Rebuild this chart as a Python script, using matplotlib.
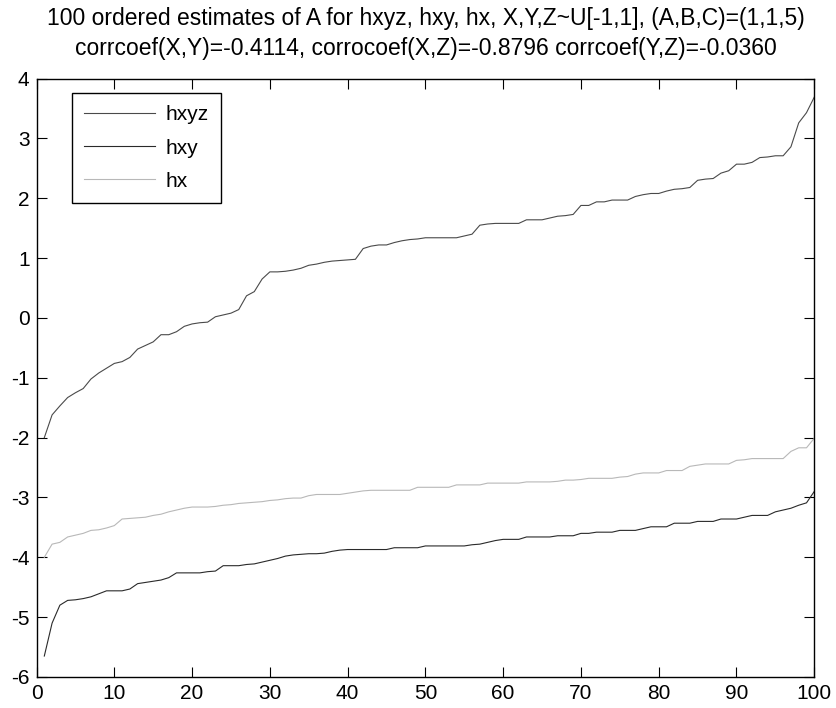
import numpy as np
import matplotlib.pyplot as plt

plt.rcParams['font.family'] = ['Liberation Sans', 'DejaVu Sans']
plt.rcParams['axes.unicode_minus'] = False

# valores (100 estimaciones ordenadas)
hxyz = [-2.00, -1.62, -1.47, -1.33, -1.25, -1.18, -1.02, -0.92, -0.84, -0.76,
        -0.73, -0.66, -0.52, -0.46, -0.40, -0.28, -0.28, -0.23, -0.14, -0.10,
        -0.08, -0.07, 0.02, 0.05, 0.08, 0.14, 0.37, 0.44, 0.65, 0.77,
        0.77, 0.78, 0.80, 0.83, 0.88, 0.90, 0.93, 0.95, 0.96, 0.97,
        0.98, 1.16, 1.20, 1.22, 1.22, 1.26, 1.29, 1.31, 1.32, 1.34,
        1.34, 1.34, 1.34, 1.34, 1.37, 1.40, 1.55, 1.57, 1.58, 1.58,
        1.58, 1.58, 1.64, 1.64, 1.64, 1.67, 1.70, 1.71, 1.73, 1.88,
        1.88, 1.94, 1.94, 1.97, 1.97, 1.97, 2.03, 2.06, 2.08, 2.08,
        2.12, 2.15, 2.16, 2.18, 2.30, 2.32, 2.33, 2.42, 2.46, 2.57,
        2.57, 2.60, 2.68, 2.69, 2.71, 2.71, 2.86, 3.26, 3.43, 3.69]

hxy = [-5.65, -5.10, -4.80, -4.72, -4.71, -4.69, -4.66, -4.61, -4.56, -4.56,
       -4.56, -4.53, -4.44, -4.42, -4.40, -4.38, -4.34, -4.26, -4.26, -4.26,
       -4.26, -4.24, -4.23, -4.14, -4.14, -4.14, -4.12, -4.11, -4.08, -4.05,
       -4.02, -3.98, -3.96, -3.95, -3.94, -3.94, -3.93, -3.90, -3.88, -3.87,
       -3.87, -3.87, -3.87, -3.87, -3.87, -3.84, -3.84, -3.84, -3.84, -3.81,
       -3.81, -3.81, -3.81, -3.81, -3.81, -3.79, -3.78, -3.75, -3.72, -3.70,
       -3.70, -3.70, -3.66, -3.66, -3.66, -3.66, -3.64, -3.64, -3.64, -3.60,
       -3.60, -3.58, -3.58, -3.58, -3.55, -3.55, -3.55, -3.52, -3.49, -3.49,
       -3.49, -3.43, -3.43, -3.43, -3.40, -3.40, -3.40, -3.36, -3.36, -3.36,
       -3.33, -3.30, -3.30, -3.30, -3.24, -3.21, -3.18, -3.13, -3.09, -2.90]

hx = [-4.00, -3.78, -3.75, -3.66, -3.63, -3.60, -3.55, -3.54, -3.51, -3.47,
      -3.36, -3.35, -3.34, -3.33, -3.30, -3.28, -3.24, -3.21, -3.18, -3.16,
      -3.16, -3.16, -3.15, -3.13, -3.12, -3.10, -3.09, -3.08, -3.07, -3.05,
      -3.04, -3.02, -3.01, -3.01, -2.97, -2.95, -2.95, -2.95, -2.95, -2.93,
      -2.91, -2.89, -2.88, -2.88, -2.88, -2.88, -2.88, -2.88, -2.83, -2.83,
      -2.83, -2.83, -2.83, -2.79, -2.79, -2.79, -2.79, -2.76, -2.76, -2.76,
      -2.76, -2.76, -2.74, -2.74, -2.74, -2.74, -2.73, -2.71, -2.71, -2.70,
      -2.68, -2.68, -2.68, -2.68, -2.66, -2.65, -2.61, -2.59, -2.59, -2.59,
      -2.55, -2.55, -2.55, -2.48, -2.46, -2.44, -2.44, -2.44, -2.44, -2.38,
      -2.37, -2.35, -2.35, -2.35, -2.35, -2.35, -2.23, -2.17, -2.17, -2.01]

n = np.arange(1, 101)

fig = plt.figure(figsize=(8.36, 7.08), dpi=100)
ax = fig.add_axes([0.0437, 0.0438, 0.9303, 0.8452])

ax.plot(n, hxyz, color='#4a4a4a', lw=0.8, label='hxyz')
ax.plot(n, hxy, color='#2a2a2a', lw=0.8, label='hxy')
ax.plot(n, hx, color='#b8b8b8', lw=0.8, label='hx')

ax.set_xlim(0, 100)
ax.set_ylim(-6, 4)
ax.set_xticks(range(0, 101, 10))
ax.set_yticks(range(-6, 5))
ax.tick_params(direction='in', top=True, right=True, length=7, width=0.8,
               labelsize=15, pad=5)
for s in ax.spines.values():
    s.set_linewidth(1.0)

ax.set_title('100 ordered estimates of A for hxyz, hxy, hx, X,Y,Z~U[-1,1], (A,B,C)=(1,1,5)\n'
             'corrcoef(X,Y)=-0.4114, corrocoef(X,Z)=-0.8796 corrcoef(Y,Z)=-0.0360',
             fontsize=16.5, pad=17, linespacing=1.4)

leg = ax.legend(loc='upper left', bbox_to_anchor=(0.0456, 0.976), fontsize=15,
                handlelength=3.4, handletextpad=0.5, fancybox=False,
                edgecolor='black', framealpha=1, borderpad=0.6,
                labelspacing=0.68, borderaxespad=0)
leg.get_frame().set_linewidth(1.0)

plt.savefig('out.png', dpi=100)
